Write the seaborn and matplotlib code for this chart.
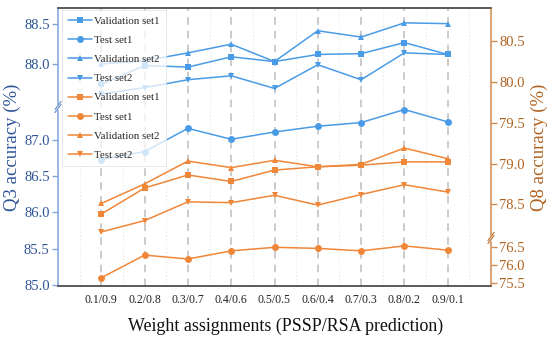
import numpy as np
import pandas as pd
import matplotlib
matplotlib.use("Agg")
import matplotlib.pyplot as plt
import seaborn as sns

categories = ["0.1/0.9", "0.2/0.8", "0.3/0.7", "0.4/0.6", "0.5/0.5",
              "0.6/0.4", "0.7/0.3", "0.8/0.2", "0.9/0.1"]

# Q3 accuracy (left axis)
q3_val1 = [87.74, 87.98, 87.96, 88.09, 88.03, 88.12, 88.13, 88.27, 88.12]
q3_test1 = [86.73, 86.84, 87.16, 87.01, 87.11, 87.19, 87.24, 87.42, 87.25]
q3_val2 = [88.00, 88.04, 88.14, 88.25, 88.03, 88.42, 88.34, 88.52, 88.51]
q3_test2 = [87.62, 87.70, 87.80, 87.85, 87.69, 87.99, 87.80, 88.14, 88.12]

# Q8 accuracy (right axis)
q8_val1 = [78.38, 78.70, 78.86, 78.78, 78.92, 78.96, 78.98, 79.02, 79.02]
q8_test1 = [75.64, 76.28, 76.17, 76.40, 76.50, 76.47, 76.40, 76.54, 76.42]
q8_val2 = [78.51, 78.75, 79.03, 78.95, 79.04, 78.96, 78.99, 79.19, 79.06]
q8_test2 = [78.16, 78.30, 78.53, 78.52, 78.61, 78.49, 78.62, 78.74, 78.65]

series_names = ["Validation set1", "Test set1", "Validation set2", "Test set2"]
markers = ["s", "o", "^", "v"]

left_ticks = [85.0, 85.5, 86.0, 86.5, 87.0, 88.0, 88.5]
right_ticks = [75.5, 76.0, 76.5, 78.5, 79.0, 79.5, 80.0, 80.5]

sns.set_theme(style="white")
plt.rcParams["font.family"] = ["Liberation Serif", "DejaVu Serif"]

BLUE = "#4A9BE6"
ORANGE = "#EF8638"
LBL_BLUE = "#2F5496"
LBL_BROWN = "#B0621F"

fig = plt.figure(figsize=(5.5, 3.41), dpi=100)
L, R, T, B = 58, 491, 8, 286
ax = fig.add_axes([L / 550, 1 - B / 341, (R - L) / 550, (B - T) / 341])
ax2 = ax.twinx()

# piecewise (broken) scales
def make_scale(bp, slope_low, slope_high, base, gap_hi=None):
    lo_b = bp
    hi_b = gap_hi if gap_hi is not None else bp + 1e-6
    p_b = (lo_b - base) * slope_low
    xs = np.array([base - 50, lo_b, hi_b, hi_b + 50])
    ps = np.array([-50 * slope_low, p_b, p_b + 1e-4, p_b + 1e-4 + 50 * slope_high])
    fwd = lambda v: np.interp(v, xs, ps)
    inv = lambda p: np.interp(p, ps, xs)
    return fwd, inv

fL, iL = make_scale(87.455, 72.5, 79.0, 85.0)
fR, iR = make_scale(76.763, 35.4, 81.5, 75.5, gap_hi=78.086)
ax.set_yscale("function", functions=(fL, iL))
ax2.set_yscale("function", functions=(fR, iR))

x = np.arange(1, len(categories) + 1)
for name, mk, vals in zip(series_names, markers, [q3_val1, q3_test1, q3_val2, q3_test2]):
    sns.lineplot(x=x, y=vals, ax=ax, color=BLUE, marker=mk, markersize=5,
                 markeredgewidth=0, linewidth=1.1, label=name)
for name, mk, vals in zip(series_names, markers, [q8_val1, q8_test1, q8_val2, q8_test2]):
    sns.lineplot(x=x, y=vals, ax=ax2, color=ORANGE, marker=mk, markersize=5,
                 markeredgewidth=0, linewidth=1.1, label=name)
for a in (ax, ax2):
    if a.get_legend() is not None:
        a.get_legend().remove()

ax.set_xlim(0, 10)
ax.set_ylim(84.986, 88.708)
ax2.set_ylim(75.407, 80.909)

ax.set_xticks(x)
ax.set_xticklabels(categories, fontsize=8.5)
ax.set_xticks(np.arange(0.5, 10, 1), minor=True)
ax.tick_params(axis="x", which="both", length=0, pad=6, colors="#222222")
ax.grid(False)
ax2.grid(False)
ax.xaxis.grid(True, which="major", linestyle=(0, (5, 4)), color="#BDBDBD", linewidth=1.1)
ax.xaxis.grid(True, which="minor", linestyle=(0, (1, 2)), color="#E6E6E6", linewidth=0.8)

ax.set_yticks(left_ticks)
ax.set_yticklabels([f"{t:.1f}" for t in left_ticks], fontsize=10.5)
ax.yaxis.set_minor_locator(matplotlib.ticker.NullLocator())
ax.tick_params(axis="y", which="major", direction="out", length=4, width=1,
               color="#7EA6D8", labelcolor=LBL_BLUE, pad=2, left=True)
ax2.set_yticks(right_ticks)
ax2.set_yticklabels([f"{t:.1f}" for t in right_ticks], fontsize=10.5)
ax2.yaxis.set_minor_locator(matplotlib.ticker.NullLocator())
ax2.tick_params(axis="y", which="major", direction="out", length=4, width=1,
                color="#D08A50", labelcolor=LBL_BROWN, pad=2, right=True)

for a in (ax, ax2):
    for s in a.spines.values():
        s.set_linewidth(1.1)
    a.spines["top"].set_color("#555555")
    a.spines["bottom"].set_color("#555555")
ax.spines["left"].set_color("#7EA6D8")
ax2.spines["left"].set_visible(False)
ax2.spines["right"].set_color("#D08A50")
ax.spines["right"].set_visible(False)

ax.set_ylabel("Q3 accuracy (%)", fontsize=13.5, color=LBL_BLUE, labelpad=2)
ax2.set_ylabel("Q8 accuracy (%)", fontsize=13.5, color=LBL_BROWN, labelpad=4)
ax.set_xlabel("Weight assignments (PSSP/RSA prediction)", fontsize=12.9,
              color="#111111", labelpad=9)
ax.xaxis.set_label_coords((285.5 - L) / (R - L), -0.115)

# break marks
def brk(axis, xa, ya, color):
    h = 4 / 278
    w = 3 / 433
    axis.add_patch(plt.Rectangle((xa - 3 / 433, ya - 2 / 278), 6 / 433, 4 / 278,
                                 transform=axis.transAxes, color="white",
                                 clip_on=False, zorder=5))
    for dy in (-1.5 / 278, 1.5 / 278):
        axis.plot([xa - w, xa + w], [ya + dy - h, ya + dy + h], transform=axis.transAxes,
                  color=color, linewidth=0.9, clip_on=False, zorder=6)

brk(ax2, 0.0, (B - 107) / 278, "#6E96CC")
brk(ax2, 1.0, (B - 238) / 278, "#C0783C")

h1, l1 = ax.get_legend_handles_labels()
h2, l2 = ax2.get_legend_handles_labels()
leg = ax2.legend(h1 + h2, l1 + l2, loc="upper left",
                 bbox_to_anchor=(0.0085, 0.993), borderaxespad=0,
                 fontsize=7.8, labelspacing=0.88, handlelength=2.2,
                 handletextpad=0.2, borderpad=0.6, frameon=True,
                 framealpha=0.75, fancybox=False, edgecolor="#DDDDDD")
leg.get_frame().set_linewidth(0.6)
leg.set_zorder(10)

fig.savefig("out.png", dpi=100)
